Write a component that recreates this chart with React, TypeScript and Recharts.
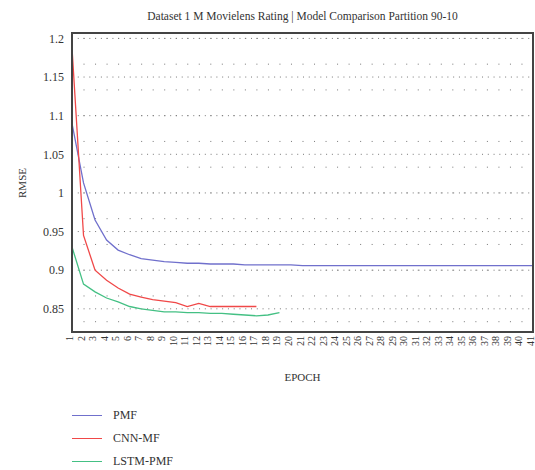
import {
  LineChart,
  Line,
  XAxis,
  YAxis,
  CartesianGrid,
  Legend,
} from 'recharts'

const epochs = [
  1, 2, 3, 4, 5, 6, 7, 8, 9, 10, 11, 12, 13, 14, 15, 16, 17, 18, 19, 20, 21,
  22, 23, 24, 25, 26, 27, 28, 29, 30, 31, 32, 33, 34, 35, 36, 37, 38, 39, 40, 41,
]

const pmf = [
  1.09, 1.013, 0.965, 0.939, 0.926, 0.92, 0.915, 0.913, 0.911, 0.91, 0.909,
  0.909, 0.908, 0.908, 0.908, 0.907, 0.907, 0.907, 0.907, 0.907, 0.906, 0.906,
  0.906, 0.906, 0.906, 0.906, 0.906, 0.906, 0.906, 0.906, 0.906, 0.906, 0.906,
  0.906, 0.906, 0.906, 0.906, 0.906, 0.906, 0.906, 0.906,
]

const cnnMf = [
  1.188, 0.945, 0.9, 0.887, 0.877, 0.869, 0.865, 0.862, 0.86, 0.858, 0.853,
  0.857, 0.853, 0.853, 0.853, 0.853, 0.853,
]

const lstmPmf = [
  0.93, 0.882, 0.872, 0.864, 0.859, 0.853, 0.85, 0.848, 0.846, 0.846, 0.845,
  0.845, 0.844, 0.844, 0.843, 0.842, 0.841, 0.842, 0.845,
]

const yTicks = [0.85, 0.9, 0.95, 1, 1.05, 1.1, 1.15, 1.2]

const series = [
  { key: 'pmf', name: 'PMF', color: '#7070cc' },
  { key: 'cnn', name: 'CNN-MF', color: '#f04848' },
  { key: 'lstm', name: 'LSTM-PMF', color: '#44c084' },
]

const data = epochs.map((epoch, i) => ({
  epoch,
  pmf: pmf[i] ?? null,
  cnn: cnnMf[i] ?? null,
  lstm: lstmPmf[i] ?? null,
}))

// dotted minor rows, three per major step
const minorRows = Array.from({ length: 23 }, (_, i) => 1.2 - i / 60)

const yMin = 0.82
const yMax = 1.207
const font = '"Liberation Serif", serif'
const frameColor = '#444'

function EpochTick({ x, y, payload }: any) {
  return (
    <text
      x={x}
      y={y}
      transform={`rotate(-90 ${x} ${y})`}
      textAnchor="end"
      dy="0.1em"
      fontSize={10}
      fontFamily={font}
      fill="#333"
    >
      {payload.value}
    </text>
  )
}

function ChartLegend() {
  return (
    <div style={{ fontFamily: font, fontSize: 12, color: '#333' }}>
      {series.map((s) => (
        <div key={s.key} style={{ display: 'flex', alignItems: 'center', height: 23 }}>
          <span style={{ width: 30, height: 0, borderTop: `1.3px solid ${s.color}`, marginRight: 11 }} />
          {s.name}
        </div>
      ))}
    </div>
  )
}

export default function App() {
  return (
    <div style={{ position: 'relative', width: 535, height: 470 }}>
      <style>{'body { margin: 0; }'}</style>
      <div
        style={{
          position: 'absolute',
          left: 72,
          width: 461,
          top: 10,
          textAlign: 'center',
          fontFamily: font,
          fontSize: 11.5,
          color: '#333',
        }}
      >
        Dataset 1 M Movielens Rating | Model Comparison Partition 90-10
      </div>
      <LineChart width={535} height={470} data={data} margin={{ top: 33, right: 2, left: 8, bottom: 78 }}>
        <CartesianGrid vertical={false} horizontalValues={minorRows} stroke="#777" strokeDasharray="1 10.525" />
        <CartesianGrid vertical={false} horizontalValues={yTicks} stroke="#777" strokeDasharray="1 4.775" />
        <XAxis
          dataKey="epoch"
          interval={0}
          tick={<EpochTick />}
          tickLine={false}
          axisLine={false}
          tickSize={0}
          tickMargin={4}
          height={60}
          label={{
            content: () => (
              <text x={302.5} y={381} textAnchor="middle" fontSize={11} fontFamily={font} fill="#333">
                EPOCH
              </text>
            ),
          }}
        />
        <YAxis
          type="number"
          domain={[yMin, yMax]}
          ticks={yTicks}
          width={64}
          tickLine={false}
          axisLine={false}
          tick={{ fontSize: 12, fontFamily: font, fill: '#333' }}
          label={{
            content: () => (
              <text
                x={22}
                y={183}
                transform="rotate(-90 22 183)"
                textAnchor="middle"
                dy="0.35em"
                fontSize={11}
                fontFamily={font}
                fill="#333"
              >
                RMSE
              </text>
            ),
          }}
        />
        {series.map((s) => (
          <Line
            key={s.key}
            type="linear"
            dataKey={s.key}
            name={s.name}
            stroke={s.color}
            strokeWidth={1.3}
            dot={false}
            isAnimationActive={false}
          />
        ))}
        <Legend
          layout="horizontal"
          verticalAlign="middle"
          align="center"
          content={<ChartLegend />}
          wrapperStyle={{ left: 72, top: 404, width: 200 }}
        />
      </LineChart>
      {/* plot frame, drawn over the plot rectangle (left 72, top 33, 461 x 299) */}
      <div
        style={{
          position: 'absolute',
          left: 71,
          top: 32,
          width: 463,
          height: 301,
          boxSizing: 'border-box',
          border: `2px solid ${frameColor}`,
          pointerEvents: 'none',
        }}
      />
    </div>
  )
}
